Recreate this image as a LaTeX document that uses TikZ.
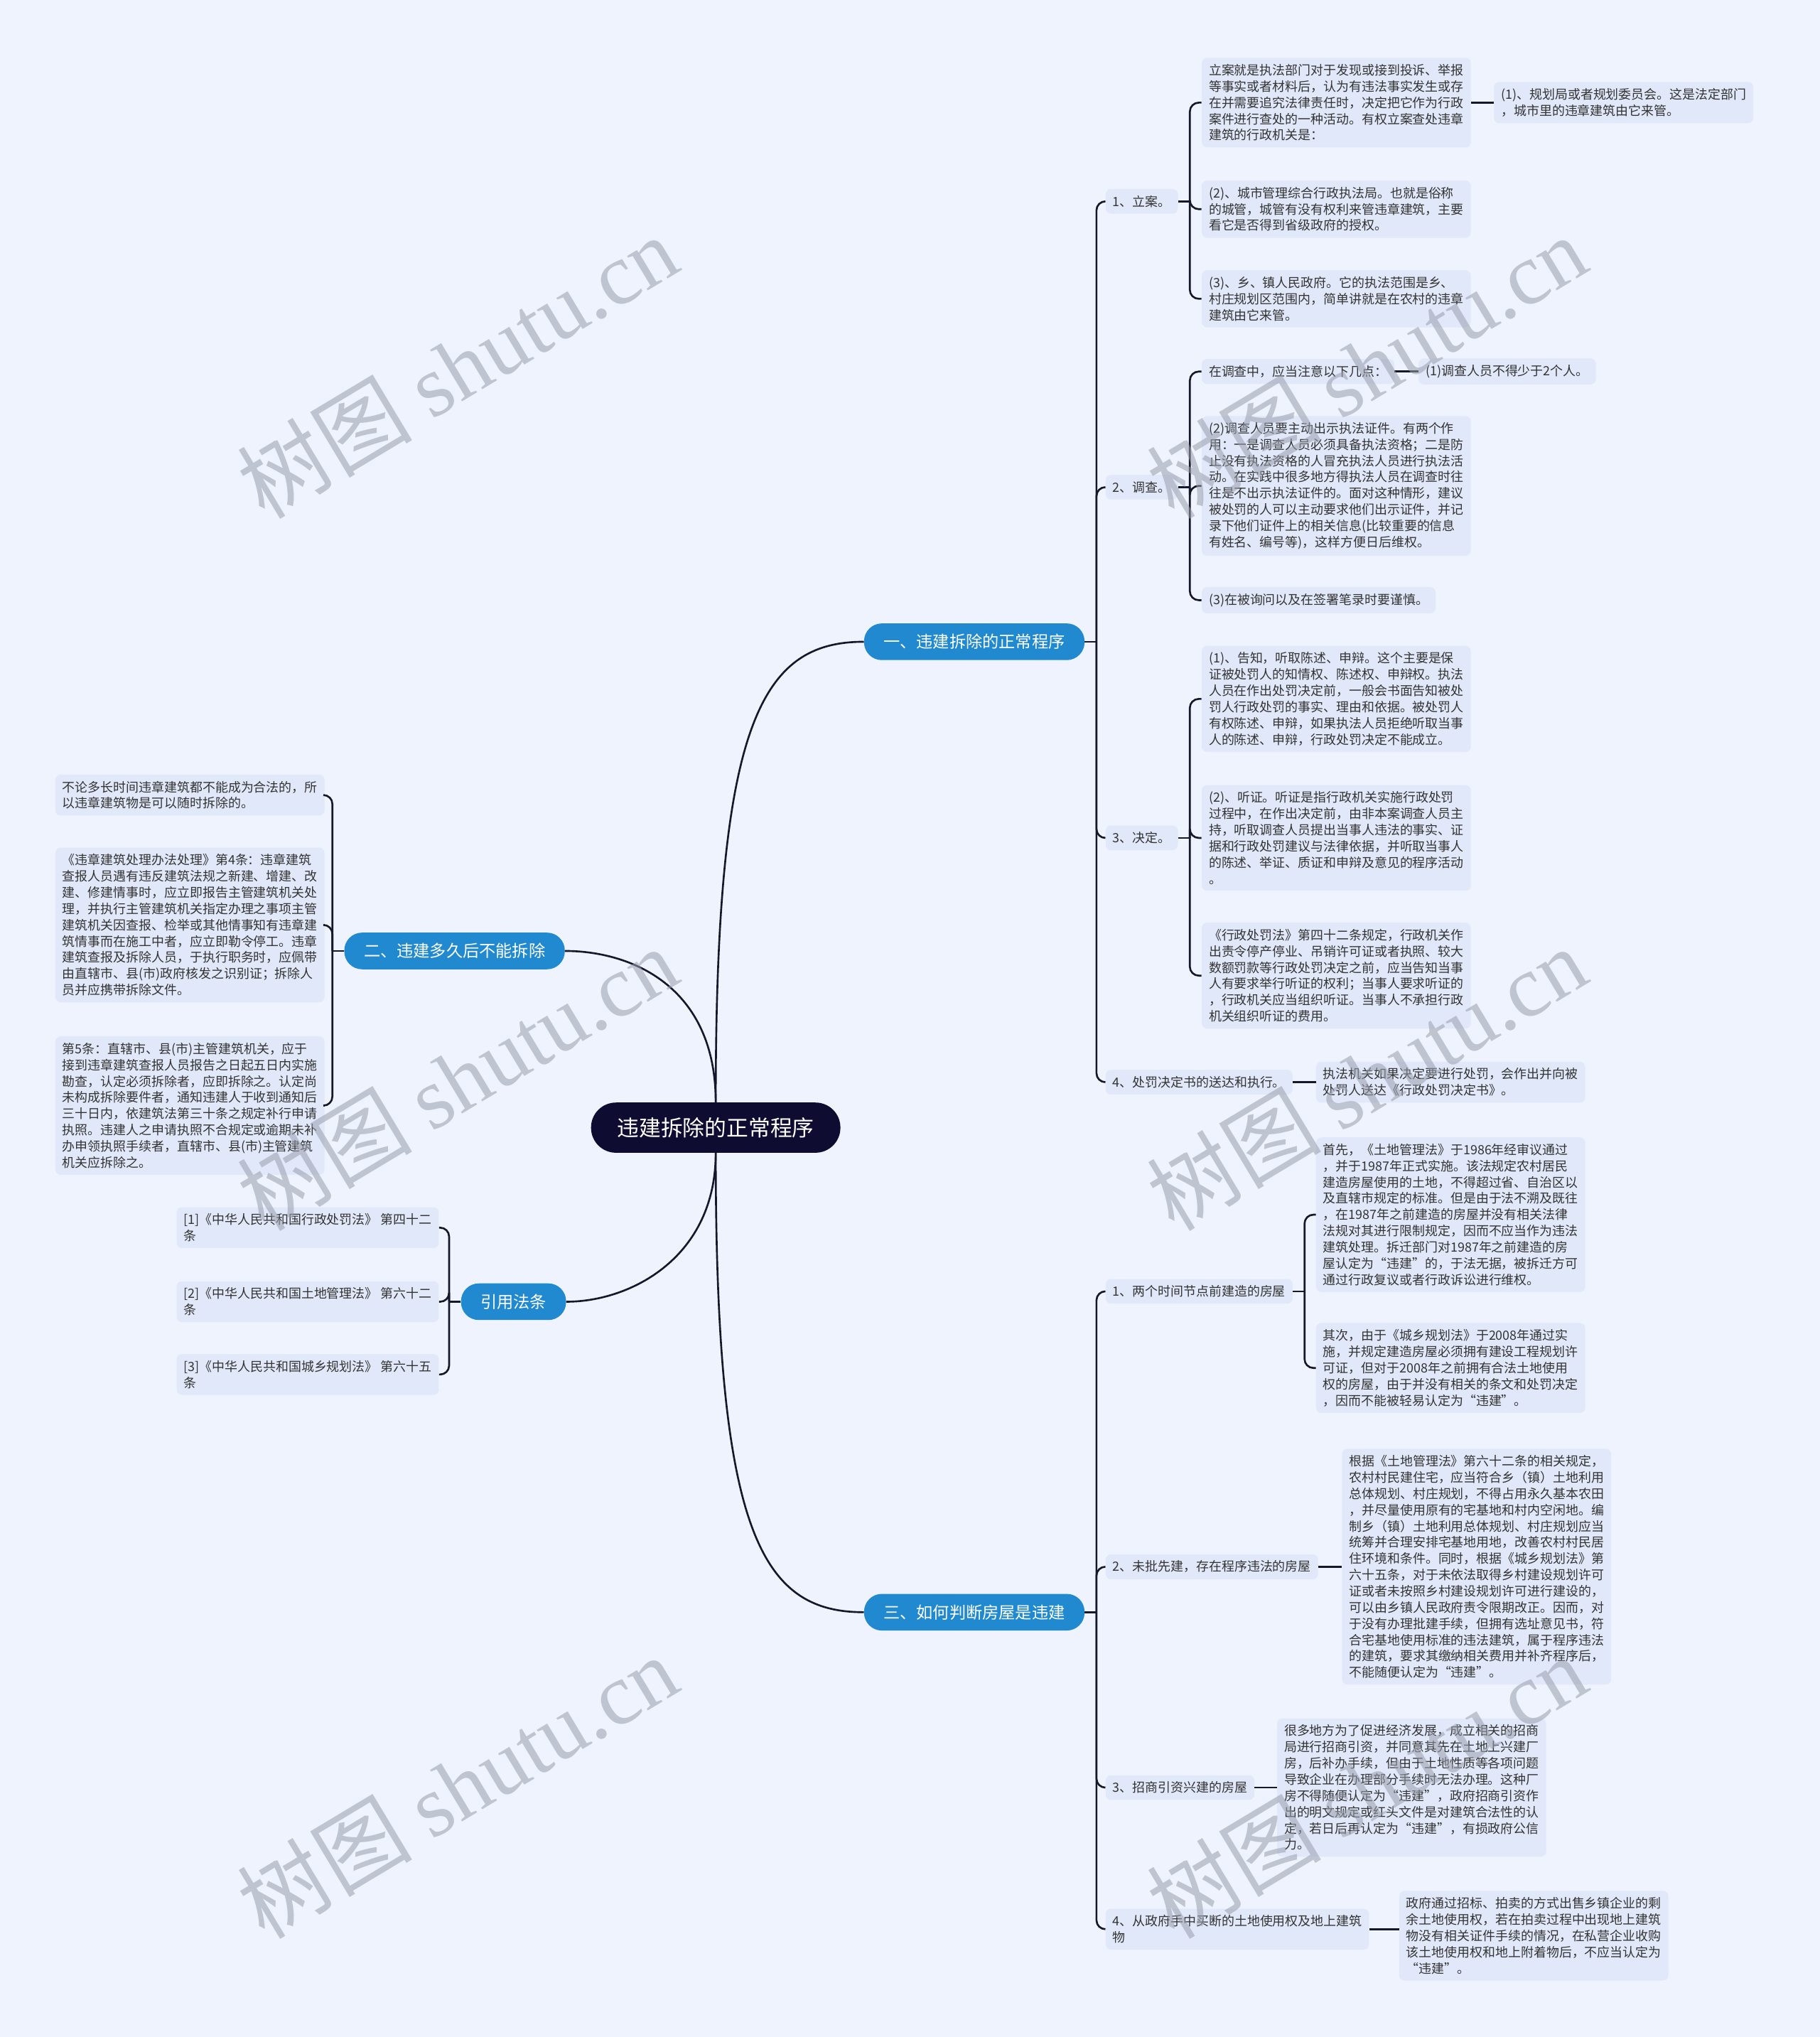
\documentclass[tikz,border=0pt]{standalone}
\usepackage{fontspec}
\setmainfont{Noto Sans CJK SC}
\newfontfamily\wmfont{Liberation Serif}
\usepackage{tikz}
\usetikzlibrary{calc}
\definecolor{bgcol}{HTML}{EEF3FD}
\definecolor{boxcol}{HTML}{E1E8F9}
\definecolor{bluecol}{HTML}{2189CF}
\definecolor{darkcol}{HTML}{0F0C31}
\definecolor{linecol}{HTML}{17172B}
\definecolor{txtcol}{HTML}{333333}
\definecolor{wmcol}{HTML}{9A9FAD}
\newcommand{\rfork}[2] {
    \draw[link] (#1.east) -- ++(9,0);
    \draw[link, rounded corners=0.25cm] ($(#1.east)+(9,0)$) |- (#2.west);
}
\newcommand{\lfork}[2] {
    \draw[link] (#1.west) -- ++(-9,0);
    \draw[link, rounded corners=0.25cm] ($(#1.west)+(-9,0)$) |- (#2.east);
}

\begin{document}
\begin{tikzpicture}[x=0.036546cm, y=-0.036546cm,
    leaf/.style={fill=boxcol, rounded corners=0.15cm, align=left, inner xsep=0.2cm, inner ysep=0.18cm, text=txtcol, font=\fontsize{10.2}{13}\selectfont},
    topic/.style={fill=bluecol, text=white, rounded corners=0.5cm, inner xsep=0.55cm, inner ysep=0.3cm, font=\fontsize{13.2}{16}\selectfont},
    root/.style={fill=darkcol, text=white, rounded corners=0.7cm, inner xsep=0.74cm, inner ysep=0.42cm, font=\fontsize{17.5}{20}\selectfont},
    link/.style={draw=linecol, line width=1.5pt},
    wm/.style={rotate=31, text=wmcol, opacity=0.55, font=\fontsize{70}{70}\selectfont}]
    \fill[bgcol] (0,0) rectangle (1401,1568);
    \useasboundingbox (0,0) rectangle (1401,1568);
    % root and main topics
    \node[root] (ctr) at (551,868) {违建拆除的正常程序};
    \node[topic, anchor=west] (b1) at (665,494) {一、违建拆除的正常程序};
    \node[topic, anchor=east] (b2) at (435,732) {二、违建多久后不能拆除};
    \node[topic, anchor=east] (b3) at (436,1002) {引用法条};
    \node[topic, anchor=west] (b4) at (665,1241) {三、如何判断房屋是违建};
    \draw[link] (ctr.north) .. controls +(0,-290) and +(-80,0) .. (b1.west);
    \draw[link] (ctr.north) .. controls +(0,-90) and +(50,0) .. (b2.east);
    \draw[link] (ctr.south) .. controls +(0,80) and +(50,0) .. (b3.east);
    \draw[link] (ctr.south) .. controls +(0,290) and +(-80,0) .. (b4.west);
    % 一
    \node[leaf, anchor=west] (p1) at (851,155) {1、立案。};
    \node[leaf, anchor=west] (p2) at (851,375) {2、调查。};
    \node[leaf, anchor=west] (p3) at (851,645) {3、决定。};
    \node[leaf, anchor=west] (p4) at (851,833) {4、处罚决定书的送达和执行。};
    \node[leaf, anchor=west] (p1a) at (925,79) {立案就是执法部门对于发现或接到投诉、举报\\等事实或者材料后，认为有违法事实发生或存\\在并需要追究法律责任时，决定把它作为行政\\案件进行查处的一种活动。有权立案查处违章\\建筑的行政机关是：};
    \node[leaf, anchor=west] (p1a1) at (1150,79) {(1)、规划局或者规划委员会。这是法定部门\\，城市里的违章建筑由它来管。};
    \node[leaf, anchor=west] (p1b) at (925,161) {(2)、城市管理综合行政执法局。也就是俗称\\的城管，城管有没有权利来管违章建筑，主要\\看它是否得到省级政府的授权。};
    \node[leaf, anchor=west] (p1c) at (925,230) {(3)、乡、镇人民政府。它的执法范围是乡、\\村庄规划区范围内，简单讲就是在农村的违章\\建筑由它来管。};
    \node[leaf, anchor=west] (p2a) at (925,286) {在调查中，应当注意以下几点：};
    \node[leaf, anchor=west] (p2a1) at (1092,286) {(1)调查人员不得少于2个人。};
    \node[leaf, anchor=west] (p2b) at (925,374) {(2)调查人员要主动出示执法证件。有两个作\\用：一是调查人员必须具备执法资格；二是防\\止没有执法资格的人冒充执法人员进行执法活\\动。在实践中很多地方得执法人员在调查时往\\往是不出示执法证件的。面对这种情形，建议\\被处罚的人可以主动要求他们出示证件，并记\\录下他们证件上的相关信息(比较重要的信息\\有姓名、编号等)，这样方便日后维权。};
    \node[leaf, anchor=west] (p2c) at (925,462) {(3)在被询问以及在签署笔录时要谨慎。};
    \node[leaf, anchor=west] (p3a) at (925,538) {(1)、告知，听取陈述、申辩。这个主要是保\\证被处罚人的知情权、陈述权、申辩权。执法\\人员在作出处罚决定前，一般会书面告知被处\\罚人行政处罚的事实、理由和依据。被处罚人\\有权陈述、申辩，如果执法人员拒绝听取当事\\人的陈述、申辩，行政处罚决定不能成立。};
    \node[leaf, anchor=west] (p3b) at (925,645) {(2)、听证。听证是指行政机关实施行政处罚\\过程中，在作出决定前，由非本案调查人员主\\持，听取调查人员提出当事人违法的事实、证\\据和行政处罚建议与法律依据，并听取当事人\\的陈述、举证、质证和申辩及意见的程序活动\\。};
    \node[leaf, anchor=west] (p3c) at (925,751) {《行政处罚法》第四十二条规定，行政机关作\\出责令停产停业、吊销许可证或者执照、较大\\数额罚款等行政处罚决定之前，应当告知当事\\人有要求举行听证的权利；当事人要求听证的\\，行政机关应当组织听证。当事人不承担行政\\机关组织听证的费用。};
    \node[leaf, anchor=west] (p4a) at (1013,833) {执法机关如果决定要进行处罚，会作出并向被\\处罚人送达《行政处罚决定书》。};
    \rfork{b1}{p1} \rfork{b1}{p2} \rfork{b1}{p3} \rfork{b1}{p4}
    \rfork{p1}{p1a} \rfork{p1}{p1b} \rfork{p1}{p1c}
    \rfork{p2}{p2a} \rfork{p2}{p2b} \rfork{p2}{p2c}
    \rfork{p3}{p3a} \rfork{p3}{p3b} \rfork{p3}{p3c}
    \draw[link] (p1a.east) -- (p1a1.west);
    \draw[link] (p2a.east) -- (p2a1.west);
    \draw[link] (p4.east) -- (p4a.west);
    % 二
    \node[leaf, anchor=east] (q1) at (250,612) {不论多长时间违章建筑都不能成为合法的，所\\以违章建筑物是可以随时拆除的。};
    \node[leaf, anchor=east] (q2) at (250,712) {《违章建筑处理办法处理》第4条：违章建筑\\查报人员遇有违反建筑法规之新建、增建、改\\建、修建情事时，应立即报告主管建筑机关处\\理，并执行主管建筑机关指定办理之事项主管\\建筑机关因查报、检举或其他情事知有违章建\\筑情事而在施工中者，应立即勒令停工。违章\\建筑查报及拆除人员，于执行职务时，应佩带\\由直辖市、县(市)政府核发之识别证；拆除人\\员并应携带拆除文件。};
    \node[leaf, anchor=east] (q3) at (250,851) {第5条：直辖市、县(市)主管建筑机关，应于\\接到违章建筑查报人员报告之日起五日内实施\\勘查，认定必须拆除者，应即拆除之。认定尚\\未构成拆除要件者，通知违建人于收到通知后\\三十日内，依建筑法第三十条之规定补行申请\\执照。违建人之申请执照不合规定或逾期未补\\办申领执照手续者，直辖市、县(市)主管建筑\\机关应拆除之。};
    \lfork{b2}{q1} \lfork{b2}{q2} \lfork{b2}{q3}
    % 引用法条
    \node[leaf, anchor=east] (r1) at (338,945) {[1]《中华人民共和国行政处罚法》 第四十二\\条};
    \node[leaf, anchor=east] (r2) at (338,1002) {[2]《中华人民共和国土地管理法》 第六十二\\条};
    \node[leaf, anchor=east] (r3) at (338,1058) {[3]《中华人民共和国城乡规划法》 第六十五\\条};
    \lfork{b3}{r1} \lfork{b3}{r2} \lfork{b3}{r3}
    % 三
    \node[leaf, anchor=west] (s1) at (851,994) {1、两个时间节点前建造的房屋};
    \node[leaf, anchor=west] (s2) at (851,1206) {2、未批先建，存在程序违法的房屋};
    \node[leaf, anchor=west] (s3) at (851,1376) {3、招商引资兴建的房屋};
    \node[leaf, anchor=west] (s4) at (851,1485) {4、从政府手中买断的土地使用权及地上建筑\\物};
    \node[leaf, anchor=west] (s1a) at (1013,935) {首先，《土地管理法》于1986年经审议通过\\，并于1987年正式实施。该法规定农村居民\\建造房屋使用的土地，不得超过省、自治区以\\及直辖市规定的标准。但是由于法不溯及既往\\，在1987年之前建造的房屋并没有相关法律\\法规对其进行限制规定，因而不应当作为违法\\建筑处理。拆迁部门对1987年之前建造的房\\屋认定为“违建”的，于法无据，被拆迁方可\\通过行政复议或者行政诉讼进行维权。};
    \node[leaf, anchor=west] (s1b) at (1013,1053) {其次，由于《城乡规划法》于2008年通过实\\施，并规定建造房屋必须拥有建设工程规划许\\可证，但对于2008年之前拥有合法土地使用\\权的房屋，由于并没有相关的条文和处罚决定\\，因而不能被轻易认定为“违建”。};
    \node[leaf, anchor=west] (s2a) at (1033,1206) {根据《土地管理法》第六十二条的相关规定，\\农村村民建住宅，应当符合乡（镇）土地利用\\总体规划、村庄规划，不得占用永久基本农田\\，并尽量使用原有的宅基地和村内空闲地。编\\制乡（镇）土地利用总体规划、村庄规划应当\\统筹并合理安排宅基地用地，改善农村村民居\\住环境和条件。同时，根据《城乡规划法》第\\六十五条，对于未依法取得乡村建设规划许可\\证或者未按照乡村建设规划许可进行建设的，\\可以由乡镇人民政府责令限期改正。因而，对\\于没有办理批建手续，但拥有选址意见书，符\\合宅基地使用标准的违法建筑，属于程序违法\\的建筑，要求其缴纳相关费用并补齐程序后，\\不能随便认定为“违建”。};
    \node[leaf, anchor=west] (s3a) at (983,1376) {很多地方为了促进经济发展，成立相关的招商\\局进行招商引资，并同意其先在土地上兴建厂\\房，后补办手续，但由于土地性质等各项问题\\导致企业在办理部分手续时无法办理。这种厂\\房不得随便认定为“违建”，政府招商引资作\\出的明文规定或红头文件是对建筑合法性的认\\定，若日后再认定为“违建”，有损政府公信\\力。};
    \node[leaf, anchor=west] (s4a) at (1077,1490) {政府通过招标、拍卖的方式出售乡镇企业的剩\\余土地使用权，若在拍卖过程中出现地上建筑\\物没有相关证件手续的情况，在私营企业收购\\该土地使用权和地上附着物后，不应当认定为\\“违建”。};
    \rfork{b4}{s1} \rfork{b4}{s2} \rfork{b4}{s3} \rfork{b4}{s4}
    \rfork{s1}{s1a} \rfork{s1}{s1b}
    \draw[link] (s2.east) -- (s2a.west);
    \draw[link] (s3.east) -- (s3a.west);
    \draw[link] (s4.east) -- (s4.east -| s4a.west);
    % watermark
    \foreach \wx/\wy in {352/282, 1052/282, 352/830, 1052/830, 352/1375, 1052/1375}
        \node[wm] (wm-\wx-\wy) at (\wx,\wy) {树图 {\wmfont shutu.cn}};
\end{tikzpicture}
\end{document}
